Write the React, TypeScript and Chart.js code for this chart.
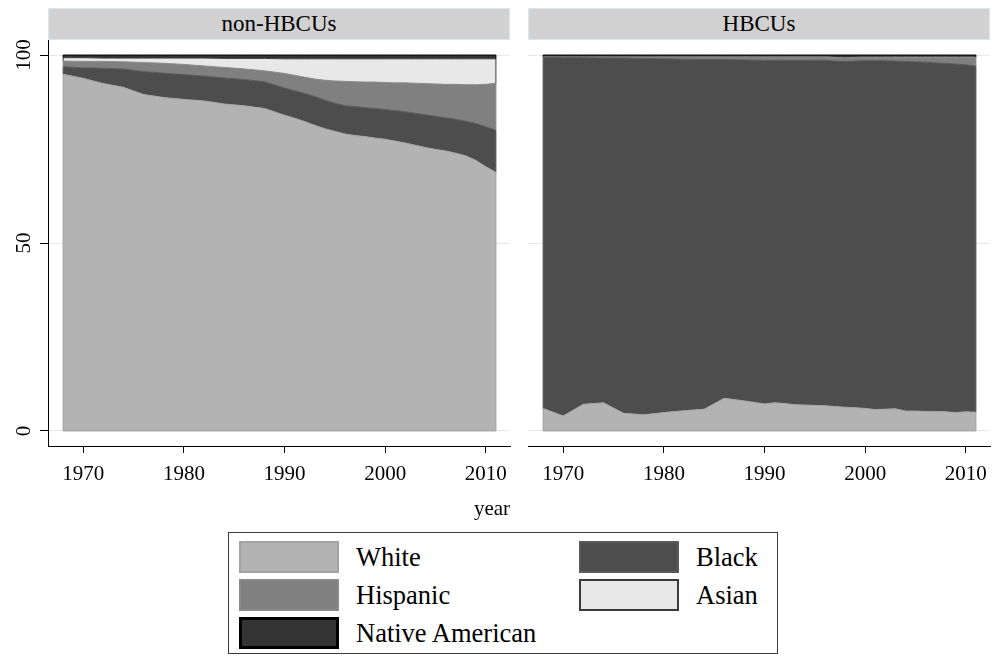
import React, { useEffect, useRef } from 'react';
import { Chart, registerables } from 'chart.js';

Chart.register(...registerables);

const FONT = '"Liberation Serif", "Times New Roman", Times, serif';

const years = [1968, 1970, 1972, 1974, 1976, 1978, 1980, 1982, 1984, 1986, 1988, 1990, 1991, 1992, 1993, 1994, 1995, 1996, 1997, 1998, 1999, 2000, 2001, 2002, 2003, 2004, 2005, 2006, 2007, 2008, 2009, 2010, 2011];
const xTicks = [1970, 1980, 1990, 2000, 2010];
const yTicks = [0, 50, 100];
const seriesNames = ['White', 'Black', 'Hispanic', 'Asian', 'Native American'];
const panelTitles = ['non-HBCUs', 'HBCUs'];

// non-HBCUs (percent of enrollment)
const nonWhite = [94.9, 93.8, 92.4, 91.4, 89.5, 88.7, 88.2, 87.8, 87.0, 86.5, 85.8, 84.0, 83.2, 82.3, 81.3, 80.4, 79.7, 79.0, 78.6, 78.3, 77.9, 77.6, 77.1, 76.6, 76.0, 75.4, 74.9, 74.5, 73.9, 73.2, 72.0, 70.3, 68.8];
const nonBlack = [2.0, 2.8, 4.1, 4.9, 6.1, 6.5, 6.6, 6.6, 6.9, 7.0, 7.1, 7.2, 7.3, 7.5, 7.7, 7.6, 7.5, 7.5, 7.7, 7.7, 7.9, 7.9, 8.1, 8.3, 8.5, 8.7, 8.8, 8.8, 9.0, 9.2, 9.8, 10.6, 11.2];
const nonHispanic = [1.5, 1.7, 1.8, 1.9, 2.4, 2.6, 2.7, 2.7, 2.8, 2.8, 2.9, 3.9, 4.1, 4.3, 4.6, 5.3, 5.9, 6.5, 6.6, 6.8, 7.0, 7.2, 7.4, 7.7, 8.0, 8.3, 8.6, 8.9, 9.3, 9.7, 10.3, 11.3, 12.5];
const nonAsian = [0.9, 1.0, 0.9, 1.0, 1.2, 1.4, 1.7, 2.1, 2.4, 2.8, 3.3, 3.9, 4.4, 4.9, 5.4, 5.7, 5.9, 6.0, 6.1, 6.2, 6.2, 6.3, 6.4, 6.4, 6.5, 6.6, 6.7, 6.8, 6.8, 6.9, 6.9, 6.8, 6.5];
const nonNative = [0.7, 0.7, 0.8, 0.8, 0.8, 0.8, 0.8, 0.8, 0.9, 0.9, 0.9, 1.0, 1.0, 1.0, 1.0, 1.0, 1.0, 1.0, 1.0, 1.0, 1.0, 1.0, 1.0, 1.0, 1.0, 1.0, 1.0, 1.0, 1.0, 1.0, 1.0, 1.0, 1.0];

// HBCUs (percent of enrollment)
const hbWhite = [6.0, 4.0, 7.1, 7.5, 4.7, 4.3, 4.9, 5.4, 5.8, 8.7, 8.0, 7.2, 7.5, 7.3, 7.0, 6.9, 6.8, 6.7, 6.5, 6.3, 6.2, 6.0, 5.7, 5.8, 5.9, 5.3, 5.3, 5.2, 5.2, 5.1, 4.9, 5.1, 5.0];
const hbBlack = [93.4, 95.3, 92.2, 91.7, 94.5, 94.8, 94.1, 93.5, 93.0, 90.1, 90.7, 91.4, 91.1, 91.3, 91.6, 91.7, 91.8, 91.9, 91.9, 92.0, 92.2, 92.5, 92.8, 92.7, 92.5, 93.0, 92.9, 92.9, 92.7, 92.7, 92.7, 92.3, 92.1];
const hbHispanic = [0.1, 0.2, 0.2, 0.3, 0.3, 0.4, 0.5, 0.6, 0.7, 0.7, 0.8, 0.9, 0.9, 0.9, 0.9, 0.9, 0.9, 0.9, 0.9, 0.9, 0.9, 0.9, 0.9, 0.9, 1.0, 1.1, 1.2, 1.3, 1.5, 1.6, 1.8, 2.0, 2.3];
const hbAsian = [0.1, 0.1, 0.1, 0.1, 0.1, 0.1, 0.1, 0.1, 0.1, 0.1, 0.1, 0.1, 0.1, 0.1, 0.1, 0.1, 0.1, 0.1, 0.2, 0.2, 0.2, 0.2, 0.2, 0.2, 0.2, 0.2, 0.2, 0.2, 0.2, 0.2, 0.2, 0.2, 0.2];
const hbNative = [0.4, 0.4, 0.4, 0.4, 0.4, 0.4, 0.4, 0.4, 0.4, 0.4, 0.4, 0.4, 0.4, 0.4, 0.4, 0.4, 0.4, 0.4, 0.5, 0.6, 0.5, 0.4, 0.4, 0.4, 0.4, 0.4, 0.4, 0.4, 0.4, 0.4, 0.4, 0.4, 0.4];

const nonSeries = [nonWhite, nonBlack, nonHispanic, nonAsian, nonNative];
const hbSeries = [hbWhite, hbBlack, hbHispanic, hbAsian, hbNative];

const FILLS = ['#b3b3b3', '#4d4d4d', '#808080', '#e8e8e8', '#333333'];
const BORDERS = ['#a2a2a2', '#5a5a5a', '#8a8a8a', '#3a3a3a', '#000000'];
const LEGEND_BORDER_W = [2, 2, 2, 2, 3];

const edgePlugin = {
  id: 'areaEdges',
  afterDatasetsDraw(chart: any) {
    const ctx = chart.ctx;
    const area = chart.chartArea;
    const y0 = chart.scales.y.getPixelForValue(0);
    ctx.save();
    ctx.beginPath();
    ctx.rect(area.left, area.top, area.right - area.left, area.bottom - area.top);
    ctx.clip();
    chart.data.datasets.forEach((ds: any, i: number) => {
      const pts = chart.getDatasetMeta(i).data;
      if (!pts.length) return;
      const prev = i > 0 ? chart.getDatasetMeta(i - 1).data : null;
      ctx.strokeStyle = ds.borderColor;
      ctx.lineWidth = 1;
      [0, pts.length - 1].forEach((k) => {
        const p = pts[k];
        const b = prev ? prev[k].y : y0;
        ctx.beginPath();
        ctx.moveTo(p.x, b);
        ctx.lineTo(p.x, p.y);
        ctx.stroke();
      });
      if (i === 0) {
        ctx.beginPath();
        ctx.moveTo(pts[0].x, y0);
        ctx.lineTo(pts[pts.length - 1].x, y0);
        ctx.stroke();
      }
    });
    ctx.restore();
  },
};

const yLabelPlugin = {
  id: 'rotatedYLabels',
  afterDraw(chart: any) {
    const s = chart.scales.y;
    const ctx = chart.ctx;
    ctx.save();
    ctx.font = `21px ${FONT}`;
    ctx.fillStyle = '#000';
    ctx.textAlign = 'center';
    ctx.textBaseline = 'alphabetic';
    yTicks.forEach((v) => {
      const y = s.getPixelForValue(v);
      ctx.save();
      ctx.translate(30, y);
      ctx.rotate(-Math.PI / 2);
      ctx.fillText(String(v), 0, 0);
      ctx.restore();
    });
    ctx.restore();
  },
};

function Panel({ series, showY, left, top, width, height }: any) {
  const ref = useRef<HTMLCanvasElement | null>(null);
  useEffect(() => {
    if (!ref.current) return;
    const chart = new Chart(ref.current, {
      type: 'line',
      data: {
        datasets: seriesNames.map((name, i) => ({
          label: name,
          data: years.map((x, j) => ({ x, y: series[i][j] })),
          fill: i === 0 ? 'origin' : '-1',
          backgroundColor: FILLS[i],
          borderColor: BORDERS[i],
          borderWidth: 1,
          pointRadius: 0,
          tension: 0,
        })),
      },
      options: {
        animation: false,
        responsive: false,
        maintainAspectRatio: false,
        layout: { padding: { top: 2, right: 2, left: showY ? 0 : 2, bottom: 0 } },
        plugins: { legend: { display: false }, tooltip: { enabled: false } },
        scales: {
          x: {
            type: 'linear',
            min: 1966.5,
            max: 2012.4,
            afterBuildTicks: (s: any) => {
              s.ticks = xTicks.map((v) => ({ value: v }));
            },
            ticks: {
              font: { family: FONT, size: 21 },
              color: '#000',
              padding: 9,
              maxRotation: 0,
              minRotation: 0,
              autoSkip: false,
              callback: (v: any) => String(v),
            },
            grid: { drawOnChartArea: false, drawTicks: true, tickLength: 7, tickColor: '#000' },
            border: { display: true, color: '#000', width: 1 },
            afterFit: (s: any) => {
              s.height = 50;
              s.paddingLeft = 0;
              s.paddingRight = 0;
            },
          },
          y: {
            type: 'linear',
            stacked: true,
            min: -4,
            max: 104,
            afterBuildTicks: (s: any) => {
              s.ticks = yTicks.map((v) => ({ value: v }));
            },
            ticks: { display: false },
            grid: { color: '#e8e8e8', lineWidth: 1, drawTicks: showY, tickLength: 8, tickColor: '#000' },
            border: { display: showY, color: '#000', width: 1 },
            afterFit: (s: any) => {
              s.width = showY ? 48 : 0;
              s.paddingTop = 0;
              s.paddingBottom = 0;
            },
          },
        },
      } as any,
      plugins: showY ? [edgePlugin, yLabelPlugin] : [edgePlugin],
    } as any);
    return () => chart.destroy();
  }, []);
  return (
    <canvas
      ref={ref}
      width={width}
      height={height}
      style={{ position: 'absolute', left, top, width, height }}
    />
  );
}

function Header({ text, left, width }: any) {
  return (
    <div
      style={{
        position: 'absolute',
        left,
        top: 8,
        width,
        height: 32,
        boxSizing: 'border-box',
        background: '#d1d1d1',
        border: '1px solid #dce6ee',
        display: 'flex',
        alignItems: 'center',
        justifyContent: 'center',
        fontFamily: FONT,
        fontSize: 23,
        color: '#000',
      }}
    >
      {text}
    </div>
  );
}

export default function App() {
  return (
    <div style={{ position: 'absolute', left: 0, top: 0, width: 992, height: 656, background: '#fff', overflow: 'hidden' }}>
      <Header text={panelTitles[0]} left={48} width={462} />
      <Header text={panelTitles[1]} left={528} width={462} />
      <Panel series={nonSeries} showY={true} left={0} top={38} width={512} height={458} />
      <Panel series={hbSeries} showY={false} left={526} top={38} width={466} height={458} />
      <div
        style={{
          position: 'absolute',
          left: 442,
          top: 494,
          width: 100,
          height: 28,
          textAlign: 'center',
          lineHeight: '28px',
          fontFamily: FONT,
          fontSize: 21,
          color: '#000',
        }}
      >
        year
      </div>
      <div
        style={{
          position: 'absolute',
          left: 228,
          top: 532,
          width: 550,
          height: 122,
          boxSizing: 'border-box',
          border: '1px solid #3a3a3a',
          background: '#fff',
        }}
      >
        {seriesNames.map((name, i) => {
          const row = Math.floor(i / 2);
          const col = i % 2;
          const top = 8 + row * 38;
          const sx = col === 0 ? 10 : 350;
          return (
            <React.Fragment key={name}>
              <div
                style={{
                  position: 'absolute',
                  left: sx,
                  top,
                  width: 100,
                  height: 32,
                  boxSizing: 'border-box',
                  background: FILLS[i],
                  border: `${LEGEND_BORDER_W[i]}px solid ${BORDERS[i]}`,
                }}
              />
              <div
                style={{
                  position: 'absolute',
                  left: sx + 117,
                  top,
                  height: 32,
                  lineHeight: '32px',
                  whiteSpace: 'nowrap',
                  fontFamily: FONT,
                  fontSize: 26.5,
                  color: '#000',
                }}
              >
                {name}
              </div>
            </React.Fragment>
          );
        })}
      </div>
    </div>
  );
}
